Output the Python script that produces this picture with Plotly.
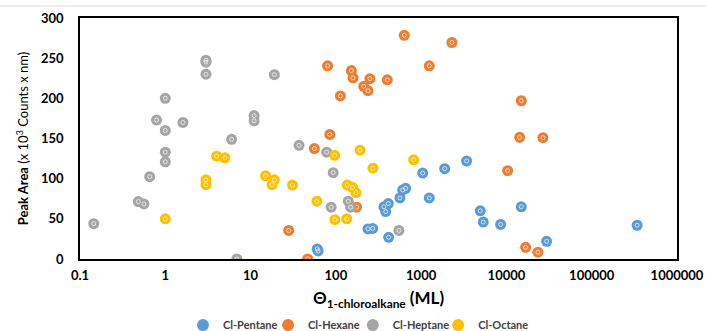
import plotly.graph_objects as go

# ---- data ----
pentane_x = [3412, 1888, 1042, 564, 607, 658, 1245, 366, 412, 384, 238, 270, 416, 60.5, 62,
             4933, 5346, 8551, 14930, 29600, 341000]
pentane_y = [122, 112.5, 107, 76, 86, 88, 76, 65, 69, 59, 37.5, 38, 27, 12.5, 10,
             60, 46, 43, 65, 22, 42]

hexane_x = [634, 2296, 80, 152, 159, 251, 401, 212, 238, 1245, 113, 85, 56, 175, 28, 46.7,
            14930, 14290, 26800, 10330, 16800, 23400]
hexane_y = [278.5, 269.5, 240.5, 234.5, 225.5, 224.5, 223, 215, 209.5, 240.5, 203, 155, 137.5,
            64.5, 35.5, 0, 197, 151.5, 151, 110, 14.5, 8.5]

heptane_x = [3, 3, 3, 1, 0.79, 1, 1.61, 6.0, 1, 1, 0.656, 0.483, 0.562, 0.145, 6.9,
             19, 11, 11, 37, 78, 93, 88, 140, 149, 549]
heptane_y = [247.5, 245, 230, 200, 173, 160, 170, 149, 133, 121, 102.5, 71.5, 68.5, 44, 0,
             229.5, 178.5, 172, 141.5, 133, 107.5, 64.5, 72, 64.5, 35.5]

octane_x = [4, 5, 3, 3, 1, 97, 192, 817, 272, 15, 19, 17.9, 31, 60, 136, 157, 172, 97.5, 134]
octane_y = [128, 126, 98.5, 92.5, 50, 129, 135.5, 123.5, 113, 103.5, 98.5, 92.5, 92, 72,
            92, 89, 82.5, 49, 50]

series_names = ["Cl-Pentane", "Cl-Hexane", "Cl-Heptane", "Cl-Octane"]
series_colors = ["#5B9BD5", "#ED7D31", "#A5A5A5", "#FFC000"]
series_x = [pentane_x, hexane_x, heptane_x, octane_x]
series_y = [pentane_y, hexane_y, heptane_y, octane_y]

x_tickvals = [0.1, 1, 10, 100, 1000, 10000, 100000, 1000000]
x_ticktext = ["0.1", "1", "10", "100", "1000", "10000", "100000", "1000000"]
y_tickvals = [0, 50, 100, 150, 200, 250, 300]

FONT = "Lato, 'Open Sans', sans-serif"
legend_ids = ["legend", "legend2", "legend3", "legend4"]
legend_x = [0.1725, 0.315, 0.457, 0.600]   # paper positions of the 4 legend entries

fig = go.Figure()
for name, col, xs, ys, lid in zip(series_names, series_colors, series_x, series_y, legend_ids):
    fig.add_trace(go.Scatter(
        x=xs, y=ys, mode="markers", name="<b>" + name + "</b>", legend=lid,
        marker=dict(symbol="circle", size=11, color=col, line=dict(width=0)),
    ))
    fig.add_trace(go.Scatter(
        x=xs, y=ys, mode="markers", showlegend=False, hoverinfo="skip",
        marker=dict(symbol="circle-open", size=4, color="rgba(255,255,255,0.7)",
                    line=dict(width=1, color="rgba(255,255,255,0.7)")),
    ))

legend_common = dict(orientation="h", xanchor="left", y=-0.274, yanchor="middle",
                     font=dict(size=11, family=FONT, color="#404040"),
                     itemwidth=30, itemsizing="constant", bgcolor="rgba(0,0,0,0)")

fig.update_layout(
    width=706, height=331,
    margin=dict(l=80, r=29, t=18, b=72, autoexpand=False),
    paper_bgcolor="white", plot_bgcolor="white",
    font=dict(family=FONT, color="#000000"),
    showlegend=True,
    legend=dict(x=legend_x[0], **legend_common),
    legend2=dict(x=legend_x[1], **legend_common),
    legend3=dict(x=legend_x[2], **legend_common),
    legend4=dict(x=legend_x[3], **legend_common),
    xaxis=dict(
        type="log", range=[-1, 6], automargin=False,
        tickvals=x_tickvals, ticktext=x_ticktext,
        tickfont=dict(size=13, family=FONT, weight="bold"),
        showgrid=False, zeroline=False,
        showline=True, linecolor="#000000", linewidth=1.5, mirror=True,
        ticks="", ticklabelstandoff=4,
        title=dict(text="<b>Θ<sub>1-chloroalkane</sub> (ML)</b>",
                   font=dict(size=17, family=FONT), standoff=10),
    ),
    yaxis=dict(
        range=[0, 300], tickvals=y_tickvals, automargin=False,
        tickfont=dict(size=13, family=FONT, weight="bold"),
        showgrid=False, zeroline=False,
        showline=True, linecolor="#000000", linewidth=1.5, mirror=True,
        ticks="", ticklabelstandoff=12,
        title=dict(text="<b>Peak Area</b> (x 10<sup>3</sup> Counts x nm)",
                   font=dict(size=13, family=FONT), standoff=9),
    ),
    shapes=[dict(type="line", xref="paper", yref="paper",
                 x0=-80/597, x1=626/597, y0=1 + 12/241, y1=1 + 12/241,
                 line=dict(color="#D9D9D9", width=1))],
)

fig.write_html("out.html", config={"displayModeBar": False},
               post_script="document.body.style.margin='0';document.body.style.overflow='hidden';")
